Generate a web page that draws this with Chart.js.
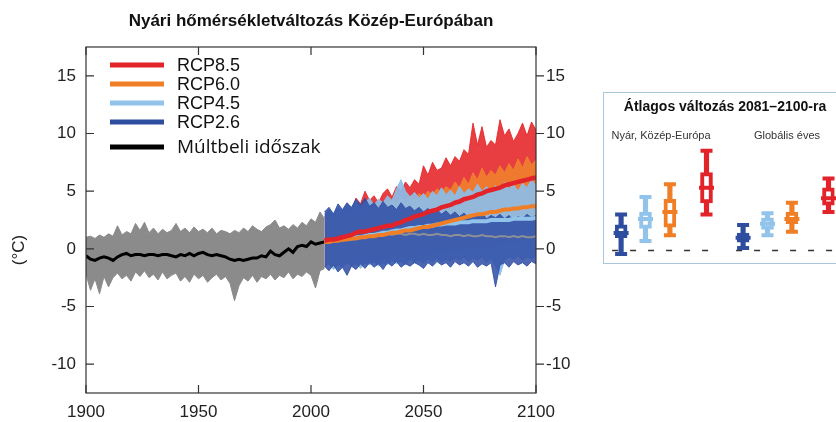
<!DOCTYPE html>
<html>
<head>
<meta charset="utf-8">
<script src="https://cdn.jsdelivr.net/npm/chart.js@4.4.1/dist/chart.umd.min.js"></script>
<style>
  html, body { margin: 0; padding: 0; background: #fff; overflow: hidden; }
  #wrap { position: relative; width: 836px; height: 422px; overflow: hidden; }
  #main { position: absolute; left: 0; top: 0; }
  #insetBox { position: absolute; left: 603px; top: 92px; width: 250px; height: 170px;
              border: 1px solid #a9c6da; background: #fff; }
  #inset { position: absolute; left: 0; top: 0; }
</style>
</head>
<body>
<div id="wrap">
  <canvas id="main" width="836" height="422"></canvas>
  <div id="insetBox"><canvas id="inset" width="232" height="169"></canvas></div>
</div>
<script>
// ---- adatok (leolvasva) ----
const histYears = [1900,1902,1904,1906,1908,1910,1912,1914,1916,1918,1920,1922,1924,1926,1928,1930,1932,1934,1936,1938,1940,1942,1944,1946,1948,1950,1952,1954,1956,1958,1960,1962,1964,1966,1968,1970,1972,1974,1976,1978,1980,1982,1984,1986,1988,1990,1992,1994,1996,1998,2000,2002,2004,2006];
const histUpper = [1.0,1.1,0.9,1.2,1.0, 1.3,1.1,2.0,1.2,1.5, 1.3,2.2,1.6,2.3,1.4, 1.8,1.3,1.7,1.4,1.6, 2.2,1.5,1.8,1.4,1.9, 1.5,1.7,1.4,1.8,1.3, 1.6,1.5,1.3,1.6,1.4, 1.8,1.5,2.0,1.7,1.5, 1.9,2.1,2.5,1.8,2.0, 1.7,2.1,1.8,2.3,2.0, 2.6,2.3,3.2,2.6];
const histLower = [-2.2,-3.6,-2.6,-3.9,-2.4, -3.3,-2.5,-2.1,-2.6,-2.3, -2.8,-2.0,-2.4,-1.9,-2.5, -2.2,-2.7,-2.0,-2.6,-2.3, -2.1,-2.8,-2.4,-2.9,-2.2, -2.6,-2.3,-2.9,-2.5,-2.2, -2.7,-2.4,-3.0,-4.5,-3.2, -2.5,-2.8,-2.3,-2.9,-2.4, -2.6,-2.2,-2.7,-2.3,-2.5, -2.0,-2.6,-2.2,-2.4,-2.0, -2.3,-3.4,-1.9,-1.7];
const histMean = [-0.6,-0.9,-1.0,-0.8,-0.7, -0.8,-1.0,-0.7,-0.5,-0.4, -0.6,-0.5,-0.5,-0.6,-0.5, -0.5,-0.6,-0.5,-0.5,-0.6, -0.7,-0.5,-0.6,-0.4,-0.6, -0.4,-0.3,-0.5,-0.6,-0.5, -0.6,-0.7,-0.9,-1.0,-0.9, -1.0,-0.9,-0.8,-0.8,-0.6, -0.7,-0.2,-0.5,-0.6,-0.3, 0.0,-0.3,0.2,0.3,0.2, 0.6,0.4,0.5,0.6];

const projYears = [2006,2008,2010,2012,2014,2016,2018,2020,2022,2024,2026,2028,2030,2032,2034,2036,2038,2040,2042,2044,2046,2048,2050,2052,2054,2056,2058,2060,2062,2064,2066,2068,2070,2072,2074,2076,2078,2080,2082,2084,2086,2088,2090,2092,2094,2096,2098,2100];

const rcp85Upper = [2.8,3.2,2.9,3.5,3.1,3.8,3.4,4.4, 3.9,5.0,4.2,4.6,4.0,4.8,5.2,4.5, 5.4,5.0,5.8,5.3,6.0,5.6,7.2,6.4, 7.5,6.8,7.0,7.9,7.2,8.0,7.6,8.6, 8.2,10.9,9.0,10.6,8.8,9.4,9.0,11.2, 9.8,10.4,9.3,10.0,10.9,9.8,11.0,10.3];
const rcp85Lower = [-1.4,-1.1,-1.6,-1.0,-1.3,-0.9,-1.2,-0.8, -1.1,-0.6,-0.9,-0.5,-0.8,-0.3,-0.6,-0.2, -0.4,0.0,-0.3,0.3,0.0,0.5,0.2,0.8, 0.4,0.9,0.7,1.2,0.9,1.4,1.1,1.6, 1.3,1.9,1.5,2.1,1.8,2.3,2.0,2.5, 2.2,2.7,2.4,2.9,2.6,3.0,2.7,3.1];
const rcp85Mean = [0.7,0.8,0.8,0.9,1.0,1.1,1.2,1.4, 1.5,1.5,1.6,1.7,1.8,1.9,2.0,2.0, 2.2,2.3,2.5,2.6,2.8,2.9,3.0,3.2, 3.3,3.4,3.6,3.7,3.8,4.0,4.1,4.3, 4.4,4.5,4.7,4.8,5.0,5.1,5.2,5.3, 5.5,5.6,5.7,5.8,5.9,6.0,6.1,6.2];

const rcp60Upper = [2.6,3.0,2.7,3.2,2.9,3.3,3.0,3.6, 3.2,3.8,3.4,3.7,3.5,4.0,3.6,4.2, 3.8,4.4,4.0,4.6,4.2,4.8,4.5,5.0, 4.7,5.2,4.9,5.4,5.1,5.8,5.3,6.2, 5.6,6.6,6.0,7.0,6.2,6.8,6.4,7.2, 6.6,7.4,6.8,7.8,7.0,8.0,7.3,7.7];
const rcp60Lower = [-1.5,-1.2,-1.7,-1.3,-1.5,-1.1,-1.4,-1.2, -1.6,-1.0,-1.3,-0.9,-1.2,-0.8,-1.1,-0.7, -1.0,-0.6,-0.9,-0.5,-0.8,-0.4,-0.7,-0.3, -0.6,-0.2,-0.5,-0.1,-0.4,0.0,-0.3,0.1, -0.2,0.2,-0.1,0.3,0.0,0.4,0.1,0.5, 0.2,0.6,0.3,0.7,0.4,0.8,0.5,0.9];
const rcp60Mean = [0.6,0.6,0.7,0.7,0.8,0.8,0.9,0.9, 1.0,1.0,1.1,1.1,1.2,1.2,1.3,1.4, 1.4,1.5,1.6,1.6,1.7,1.8,1.9,1.9, 2.0,2.1,2.2,2.3,2.4,2.5,2.6,2.7, 2.8,2.9,3.0,3.0,3.1,3.2,3.2,3.3, 3.4,3.4,3.5,3.5,3.6,3.6,3.7,3.7];

const rcp45Upper = [3.0,3.4,3.1,3.6,3.3,3.9,3.5,4.2, 3.7,4.0,4.4,3.8,4.3,4.0,4.6,4.2, 5.2,6.0,5.0,4.5,4.9,4.4,4.8,4.3, 5.0,4.6,5.3,4.7,5.1,4.6,5.4,4.8, 5.2,4.9,5.6,5.0,5.4,4.9,5.5,5.1, 5.8,5.2,5.6,5.0,5.7,5.3,6.0,5.5];
const rcp45Lower = [-1.6,-1.3,-1.8,-1.4,-1.6,-1.2,-1.5,-1.3, -1.7,-1.2,-1.4,-1.1,-1.5,-1.2,-1.4,-1.0, -1.3,-1.1,-1.4,-0.9,-1.2,-1.0,-1.3,-0.9, -1.1,-0.8,-1.2,-0.9,-1.1,-0.8,-1.0,-0.7, -1.1,-0.8,-1.0,-0.7,-1.2,-0.8,-1.5,-2.3, -1.0,-0.7,-0.9,-0.6,-1.0,-0.7,-0.9,-0.6];
const rcp45Mean = [0.6,0.7,0.7,0.8,0.8,0.9,0.9,1.0, 1.0,1.1,1.2,1.2,1.3,1.4,1.4,1.5, 1.6,1.6,1.7,1.8,1.8,1.9,1.9,2.0, 2.0,2.1,2.1,2.2,2.2,2.2,2.3,2.3, 2.3,2.4,2.4,2.4,2.4,2.5,2.5,2.5, 2.5,2.5,2.6,2.6,2.6,2.6,2.6,2.7];

const rcp26Upper = [3.2,3.6,3.0,3.9,3.4,4.0,3.6,4.3, 3.8,4.4,3.7,4.0,3.5,4.1,3.6,3.8, 3.4,4.0,3.5,3.7,3.3,3.6,3.2,3.5, 3.1,3.4,3.0,3.3,2.9,3.2,2.8,3.1, 2.7,3.0,2.8,3.1,2.6,2.9,2.7,3.0, 2.6,2.9,2.5,2.8,2.6,3.0,2.7,2.9];
const rcp26Lower = [-1.5,-1.9,-1.4,-2.0,-1.6,-2.3,-1.5,-1.8, -1.3,-1.7,-1.2,-1.6,-1.3,-1.8,-1.2,-1.5, -1.1,-1.6,-1.3,-1.5,-1.2,-1.4,-1.7,-1.2, -1.5,-1.1,-1.4,-1.2,-1.6,-1.1,-1.4,-1.2, -1.5,-1.1,-1.6,-1.3,-1.5,-1.2,-3.3,-1.4, -1.2,-1.6,-1.1,-1.4,-1.2,-1.5,-1.1,-1.3];
const rcp26Mean = [0.6,0.7,0.8,0.8,0.9,0.9,1.0,1.0, 1.1,1.1,1.2,1.1,1.2,1.2,1.3,1.2, 1.3,1.3,1.2,1.3,1.3,1.2,1.3,1.2, 1.2,1.3,1.2,1.2,1.1,1.2,1.2,1.1, 1.2,1.1,1.1,1.2,1.1,1.1,1.0,1.1, 1.1,1.0,1.1,1.0,1.1,1.0,1.0,1.1];

const xTicks = [1900, 1950, 2000, 2050, 2100];
const yTicks = [15, 10, 5, 0, -5, -10];

// inset: átlagos változás 2081–2100 (°C)
const scenarios = ['RCP2.6', 'RCP4.5', 'RCP6.0', 'RCP8.5'];
const ceLow  = [-0.3, 0.8, 1.3, 3.1];
const ceQ1   = [1.1, 1.9, 2.0, 4.1];
const ceMed  = [1.5, 2.7, 3.3, 5.4];
const ceQ3   = [2.2, 3.3, 4.4, 6.7];
const ceHigh = [3.1, 4.6, 5.7, 8.6];
const glLow  = [0.2, 1.3, 1.6, 3.3];
const glQ1   = [0.7, 1.8, 2.3, 3.9];
const glMed  = [1.1, 2.3, 2.7, 4.5];
const glQ3   = [1.5, 2.8, 3.3, 5.4];
const glHigh = [2.2, 3.2, 4.1, 6.2];
const insetSlots = ['Nyár RCP2.6', '', 'Nyár RCP4.5', '', 'Nyár RCP6.0', '', '', 'Nyár RCP8.5', '', '',
                    'Globális RCP2.6', '', 'Globális RCP4.5', '', 'Globális RCP6.0', '', '', 'Globális RCP8.5'];

// ---- színek ----
const colors = { 'RCP8.5': '#e3232a', 'RCP6.0': '#f07e26', 'RCP4.5': '#92c3ea', 'RCP2.6': '#2f4d9f' };
const bandColors = {
  'RCP8.5': 'rgba(230,40,44,0.9)',
  'RCP6.0': 'rgba(240,130,45,0.9)',
  'RCP4.5': 'rgba(140,190,232,0.92)',
  'RCP2.6': 'rgba(48,78,165,0.86)',
  hist: '#8b8b8b'
};

Chart.defaults.font.family = "'Liberation Sans', Arial, sans-serif";
Chart.defaults.color = '#222';
Chart.defaults.animation = false;

const pts = (xs, ys) => xs.map((x, i) => ({ x: x, y: ys[i] }));

const line = (label, xs, ys, color, width) => ({
  label: label, data: pts(xs, ys), borderColor: color, borderWidth: width,
  pointRadius: 0, tension: 0, fill: false
});
const bandTop = (label, xs, ys, color) => ({
  label: label, data: pts(xs, ys), borderColor: color, backgroundColor: color,
  borderWidth: 1, pointRadius: 0, tension: 0, fill: '+1'
});
const bandBottom = (label, xs, ys, color) => ({
  label: label, data: pts(xs, ys), borderColor: color,
  borderWidth: 1, pointRadius: 0, tension: 0, fill: false
});

const datasets = [
  line('RCP8.5 átlag', projYears, rcp85Mean, colors['RCP8.5'], 4.5),
  line('RCP6.0 átlag', projYears, rcp60Mean, colors['RCP6.0'], 4),
  line('RCP4.5 átlag', projYears, rcp45Mean, colors['RCP4.5'], 4),
  line('RCP2.6 átlag', projYears, rcp26Mean, '#8d8f96', 2),
  line('Múltbeli időszak', histYears, histMean, '#000', 3),
  bandTop('RCP2.6 max', projYears, rcp26Upper, bandColors['RCP2.6']),
  bandBottom('RCP2.6 min', projYears, rcp26Lower, bandColors['RCP2.6']),
  bandTop('RCP4.5 max', projYears, rcp45Upper, bandColors['RCP4.5']),
  bandBottom('RCP4.5 min', projYears, rcp45Lower, bandColors['RCP4.5']),
  bandTop('RCP6.0 max', projYears, rcp60Upper, bandColors['RCP6.0']),
  bandBottom('RCP6.0 min', projYears, rcp60Lower, bandColors['RCP6.0']),
  bandTop('RCP8.5 max', projYears, rcp85Upper, bandColors['RCP8.5']),
  bandBottom('RCP8.5 min', projYears, rcp85Lower, bandColors['RCP8.5']),
  bandTop('Múltbeli max', histYears, histUpper, bandColors.hist),
  bandBottom('Múltbeli min', histYears, histLower, bandColors.hist)
];

// keret, befelé mutató osztások, cím, jelmagyarázat
const mainDecor = {
  id: 'mainDecor',
  afterDatasetsDraw(chart) {
    const { ctx, chartArea: a, scales } = chart;
    ctx.save();
    ctx.strokeStyle = '#333';
    ctx.lineWidth = 1.2;
    ctx.strokeRect(a.left, a.top, a.width, a.height);
    ctx.beginPath();
    xTicks.forEach(v => {
      const x = scales.x.getPixelForValue(v);
      ctx.moveTo(x, a.bottom); ctx.lineTo(x, a.bottom - 8);
      ctx.moveTo(x, a.top); ctx.lineTo(x, a.top + 8);
    });
    yTicks.forEach(v => {
      const y = scales.y.getPixelForValue(v);
      ctx.moveTo(a.left, y); ctx.lineTo(a.left + 8, y);
      ctx.moveTo(a.right, y); ctx.lineTo(a.right + 8, y);
    });
    ctx.stroke();

    // jelmagyarázat
    const items = ['RCP8.5', 'RCP6.0', 'RCP4.5', 'RCP2.6'];
    const ys = [65, 84, 103, 122];
    ctx.lineWidth = 5;
    ctx.textBaseline = 'middle';
    items.forEach((name, i) => {
      ctx.strokeStyle = colors[name];
      ctx.beginPath(); ctx.moveTo(110, ys[i]); ctx.lineTo(164, ys[i]); ctx.stroke();
      ctx.fillStyle = '#111';
      ctx.font = "18px 'Liberation Sans', Arial, sans-serif";
      ctx.fillText(name, 177, ys[i] + 1);
    });
    ctx.strokeStyle = '#000';
    ctx.beginPath(); ctx.moveTo(110, 147); ctx.lineTo(164, 147); ctx.stroke();
    ctx.font = "19px 'Open Sans', sans-serif";
    ctx.fillText('Múltbeli időszak', 177, 148);
    ctx.restore();
  },
  afterDraw(chart) {
    const { ctx, chartArea: a } = chart;
    ctx.save();
    ctx.fillStyle = '#111';
    ctx.textAlign = 'center';
    ctx.textBaseline = 'middle';
    ctx.font = "bold 17px 'Liberation Sans', Arial, sans-serif";
    ctx.fillText('Nyári hőmérsékletváltozás Közép-Európában', (a.left + a.right) / 2, 21);
    ctx.translate(19, 250);
    ctx.rotate(-Math.PI / 2);
    ctx.font = "17px 'Liberation Sans', Arial, sans-serif";
    ctx.fillStyle = '#222';
    ctx.fillText('(°C)', 0, 0);
    ctx.restore();
  }
};

const yScale = (pos, w) => ({
  type: 'linear', position: pos, min: -12.5, max: 17.5,
  grid: { display: false, drawTicks: false }, border: { display: false },
  afterBuildTicks: s => { s.ticks = yTicks.map(v => ({ value: v })); },
  afterFit: s => { s.width = w; },
  ticks: { padding: 10, font: { size: 17 }, color: '#222', callback: v => String(v) }
});

new Chart(document.getElementById('main'), {
  type: 'line',
  data: { datasets: datasets },
  options: {
    responsive: false,
    layout: { autoPadding: false, padding: { top: 47, left: 0, right: 0, bottom: 0 } },
    plugins: { legend: { display: false }, title: { display: false }, tooltip: { enabled: false } },
    scales: {
      x: {
        type: 'linear', min: 1900, max: 2100,
        grid: { display: false, drawTicks: false }, border: { display: false },
        afterBuildTicks: s => { s.ticks = xTicks.map(v => ({ value: v })); },
        afterFit: s => { s.height = 29; },
        ticks: { padding: 9, font: { size: 17 }, color: '#222', maxRotation: 0, callback: v => String(v) }
      },
      y: yScale('left', 86),
      y2: yScale('right', 300)
    }
  },
  plugins: [mainDecor]
});

// ---- inset: dobozdiagramok ----
const slotValue = (ce, gl) => insetSlots.map(lbl => {
  if (!lbl) return null;
  const i = scenarios.indexOf(lbl.split(' ')[1]);
  return lbl.startsWith('Nyár') ? ce[i] : gl[i];
});
const slotRange = (ceA, ceB, glA, glB) => {
  const a = slotValue(ceA, glA), b = slotValue(ceB, glB);
  return a.map((v, i) => v === null ? null : [v, b[i]]);
};
const slotColors = insetSlots.map(lbl => lbl ? colors[lbl.split(' ')[1]] : '#fff');

const insetDecor = {
  id: 'insetDecor',
  beforeDatasetsDraw(chart) {
    const { ctx, scales } = chart;
    const y0 = scales.y.getPixelForValue(0);
    ctx.save();
    ctx.strokeStyle = '#333';
    ctx.lineWidth = 1.5;
    ctx.setLineDash([6, 12]);
    const x0 = scales.x.getPixelForValue(0), x7 = scales.x.getPixelForValue(7);
    const x10 = scales.x.getPixelForValue(10), x17 = scales.x.getPixelForValue(17);
    ctx.beginPath();
    ctx.moveTo(x0 - 9, y0); ctx.lineTo(x7 + 8, y0);
    ctx.moveTo(x10 - 7, y0); ctx.lineTo(x17 + 12, y0);
    ctx.stroke();
    ctx.restore();
  },
  afterDraw(chart) {
    const { ctx } = chart;
    ctx.save();
    ctx.fillStyle = '#111';
    ctx.textAlign = 'center';
    ctx.textBaseline = 'middle';
    ctx.font = "bold 14px 'Liberation Sans', Arial, sans-serif";
    ctx.fillText('Átlagos változás 2081–2100-ra', 121, 14);
    ctx.font = "11px 'Liberation Sans', Arial, sans-serif";
    ctx.fillStyle = '#333';
    ctx.fillText('Nyár, Közép-Európa', 57, 43);
    ctx.fillText('Globális éves', 183, 43);
    ctx.restore();
  }
};

const capSet = (label, vals, r, w) => ({
  type: 'line', label: label, data: vals, showLine: false,
  pointStyle: 'line', pointRadius: r, pointBorderWidth: w,
  pointBorderColor: slotColors, pointBackgroundColor: slotColors
});

new Chart(document.getElementById('inset'), {
  type: 'bar',
  data: {
    labels: insetSlots,
    datasets: [
      capSet('medián', slotValue(ceMed, glMed), 7.5, 4),
      capSet('maximum', slotValue(ceHigh, glHigh), 6, 4),
      capSet('minimum', slotValue(ceLow, glLow), 6, 4),
      {
        label: 'interkvartilis', data: slotRange(ceQ1, ceQ3, glQ1, glQ3),
        backgroundColor: '#fff', borderColor: slotColors, borderWidth: 4,
        borderSkipped: false, barThickness: 12, grouped: false
      },
      {
        label: 'terjedelem', data: slotRange(ceLow, ceHigh, glLow, glHigh),
        backgroundColor: slotColors, borderWidth: 0, barThickness: 4.5, grouped: false
      }
    ]
  },
  options: {
    responsive: false,
    layout: { autoPadding: false, padding: { top: 53, bottom: 0, left: 11, right: 1.4 } },
    plugins: { legend: { display: false }, tooltip: { enabled: false } },
    scales: {
      x: { display: false },
      y: { display: false, min: -1, max: 9 }
    }
  },
  plugins: [insetDecor]
});
</script>
</body>
</html>
